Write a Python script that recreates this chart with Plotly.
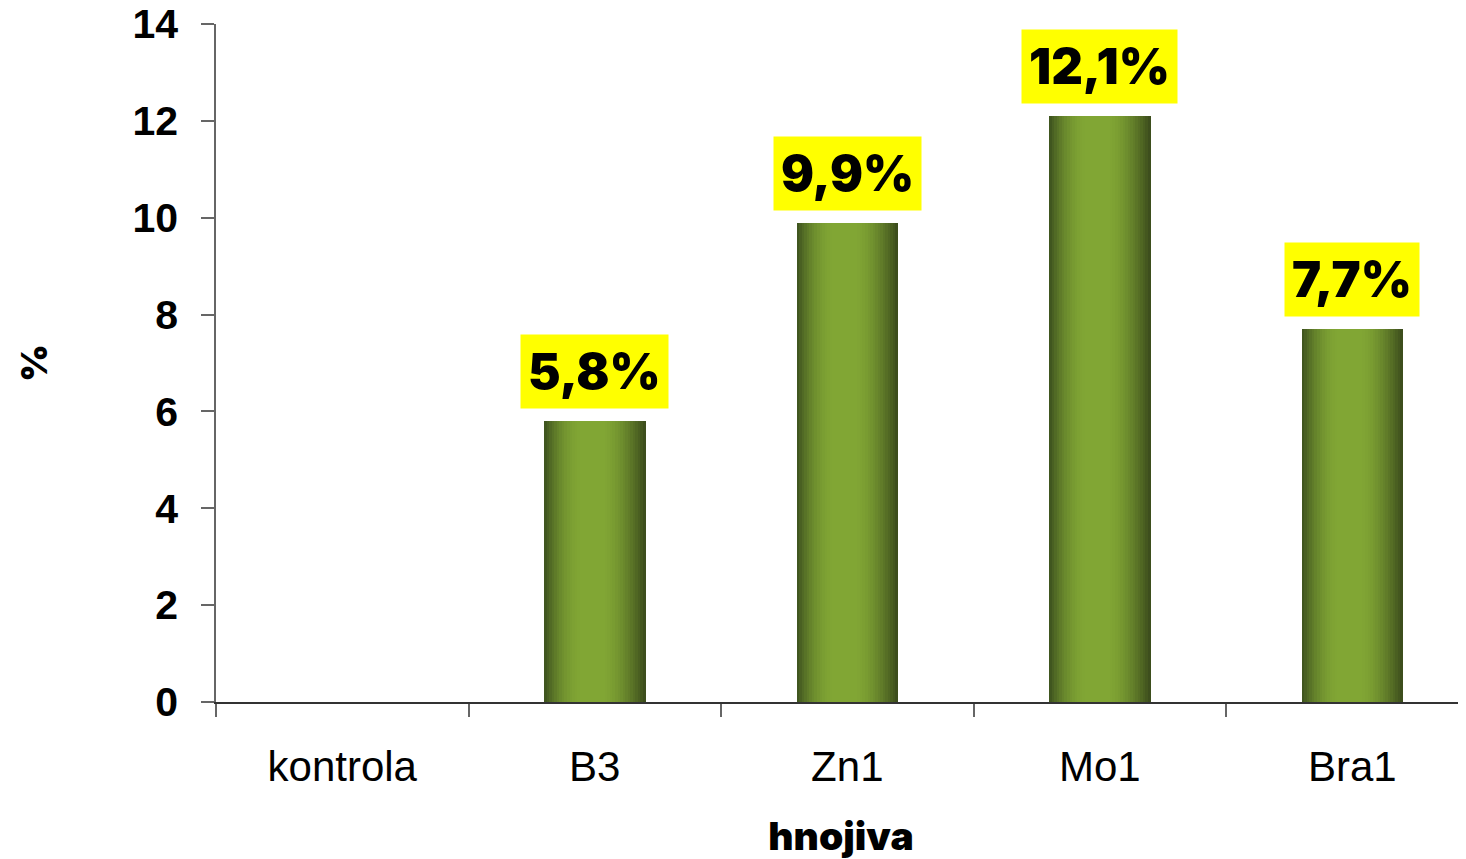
import plotly.graph_objects as go

categories = ["kontrola", "B3", "Zn1", "Mo1", "Bra1"]
values = [0.0, 5.8, 9.9, 12.1, 7.7]
labels = ["", "5,8%", "9,9%", "12,1%", "7,7%"]
y_ticks = [0, 2, 4, 6, 8, 10, 12, 14]

BAR_WIDTH = 0.40
N_STRIPS = 40

dark_l = (60, 80, 30)
light = (129, 166, 52)
dark_r = (58, 74, 28)


def shade(t):
    # horizontal cylinder-like gradient across the bar
    if t < 0.38:
        s = t / 0.38
        s = 1 - (1 - s) ** 2
        a, b = dark_l, light
    elif t < 0.58:
        return "rgb(%d,%d,%d)" % light
    else:
        s = (t - 0.58) / 0.42
        s = s ** 1.6
        a, b = light, dark_r
    c = [round(a[i] + (b[i] - a[i]) * s) for i in range(3)]
    return "rgb(%d,%d,%d)" % tuple(c)


fig = go.Figure()
strip_w = BAR_WIDTH / N_STRIPS
for k in range(N_STRIPS):
    t = (k + 0.5) / N_STRIPS
    fig.add_trace(go.Bar(
        x=categories,
        y=values,
        width=[strip_w * 1.15] * len(categories),
        offset=[-BAR_WIDTH / 2 + k * strip_w] * len(categories),
        marker=dict(color=shade(t), line=dict(width=0)),
        showlegend=False,
        hoverinfo="skip" if k else "x+y",
    ))

for cat, v, lab in zip(categories, values, labels):
    if not lab:
        continue
    fig.add_annotation(
        x=cat, y=v, text=lab, showarrow=False,
        yanchor="bottom", yshift=12,
        bgcolor="#FFFF00", borderpad=7,
        font=dict(family="Arial Black, Inter, Liberation Sans", size=49, color="black", weight=900),
    )

fig.update_layout(
    width=1458, height=851,
    margin=dict(l=208, r=0, t=16, b=157, autoexpand=False),
    paper_bgcolor="white", plot_bgcolor="white",
    barmode="overlay", bargap=0,
    xaxis=dict(
        type="category", range=[-0.5, 4.45],
        showline=True, linecolor="#333333", linewidth=2,
        ticks="outside", ticklen=13, tickcolor="#666666", tickwidth=1.5,
        tickson="boundaries", showgrid=False,
        tickfont=dict(family="Liberation Sans, Arial", size=42, color="black"),
        ticklabelstandoff=27,
        title=dict(text="hnojiva", standoff=44,
                   font=dict(family="Arial Black, Inter, Liberation Sans", size=39, color="black", weight=900)),
    ),
    yaxis=dict(
        range=[0, 14], tickvals=y_ticks,
        showline=True, linecolor="#666666", linewidth=1.5,
        ticks="outside", ticklen=13, tickcolor="#666666", tickwidth=1.5,
        showgrid=False, zeroline=False,
        tickfont=dict(family="Liberation Sans, Arial", size=41, color="black", weight="bold"),
        ticklabelstandoff=15, ticklabeloverflow="allow",
        title=dict(text="%", standoff=74,
                   font=dict(family="Arial Black, Inter, Liberation Sans", size=36, color="black", weight=900)),
    ),
)

fig.write_html("out.html")
